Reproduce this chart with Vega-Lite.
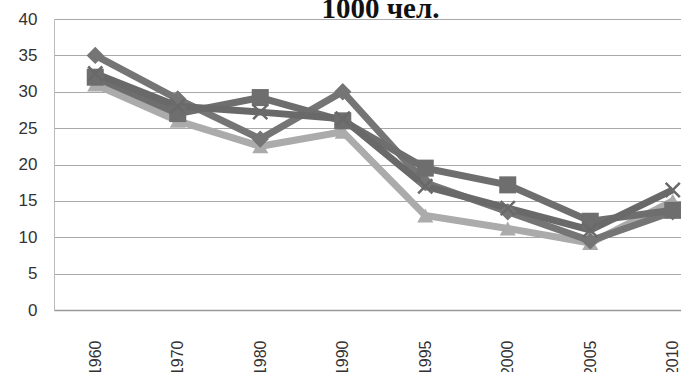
{
  "$schema": "https://vega.github.io/schema/vega-lite/v6.json",
  "width": 627,
  "height": 291,
  "autosize": {"type": "none"},
  "padding": {"left": 54, "top": 19, "right": 0, "bottom": 62},
  "background": "white",
  "title": {
    "text": "1000 чел.",
    "font": "Liberation Serif",
    "fontSize": 29,
    "fontWeight": "bold",
    "color": "#111111",
    "anchor": "middle",
    "frame": "group",
    "baseline": "bottom",
    "offset": 0,
    "dx": 13,
    "dy": 43
  },
  "config": {
    "view": {"stroke": null},
    "axis": {"labelFont": "Liberation Sans", "labelColor": "#333333", "ticks": false, "title": null}
  },
  "data": {
    "values": [
      {"year": "1960", "series": "A", "value": 35},
      {"year": "1970", "series": "A", "value": 29},
      {"year": "1980", "series": "A", "value": 23.5},
      {"year": "1990", "series": "A", "value": 30},
      {"year": "1995", "series": "A", "value": 17.5},
      {"year": "2000", "series": "A", "value": 13.5},
      {"year": "2005", "series": "A", "value": 9.5},
      {"year": "2010", "series": "A", "value": 13.5},
      {"year": "1960", "series": "B", "value": 32},
      {"year": "1970", "series": "B", "value": 27},
      {"year": "1980", "series": "B", "value": 29.2},
      {"year": "1990", "series": "B", "value": 26},
      {"year": "1995", "series": "B", "value": 19.5},
      {"year": "2000", "series": "B", "value": 17.2},
      {"year": "2005", "series": "B", "value": 12.2},
      {"year": "2010", "series": "B", "value": 13.7},
      {"year": "1960", "series": "C", "value": 31},
      {"year": "1970", "series": "C", "value": 26},
      {"year": "1980", "series": "C", "value": 22.5},
      {"year": "1990", "series": "C", "value": 24.5},
      {"year": "1995", "series": "C", "value": 13},
      {"year": "2000", "series": "C", "value": 11.2},
      {"year": "2005", "series": "C", "value": 9.2},
      {"year": "2010", "series": "C", "value": 15},
      {"year": "1960", "series": "D", "value": 32.5},
      {"year": "1970", "series": "D", "value": 28},
      {"year": "1980", "series": "D", "value": 27.2},
      {"year": "1990", "series": "D", "value": 26.3},
      {"year": "1995", "series": "D", "value": 17},
      {"year": "2000", "series": "D", "value": 14},
      {"year": "2005", "series": "D", "value": 11},
      {"year": "2010", "series": "D", "value": 16.5}
    ]
  },
  "encoding": {
    "x": {
      "field": "year",
      "type": "ordinal",
      "scale": {"type": "point", "range": [0, 660], "padding": 0.5},
      "axis": {"labelAngle": -90, "labelFontSize": 16, "labelPadding": 30, "domainColor": "#999999", "domainWidth": 1.5, "grid": false}
    },
    "y": {
      "field": "value",
      "type": "quantitative",
      "scale": {"domain": [0, 40], "nice": false},
      "axis": {"values": [0, 5, 10, 15, 20, 25, 30, 35, 40], "labelFontSize": 17, "labelPadding": 17, "domainColor": "#bbbbbb", "gridColor": "#a8a8a8", "gridWidth": 1.2}
    },
    "color": {
      "field": "series",
      "type": "nominal",
      "scale": {"domain": ["A", "B", "C", "D"], "range": ["#757575", "#6e6e6e", "#ababab", "#696969"]},
      "legend": null
    }
  },
  "layer": [
    {
      "transform": [{"filter": "datum.series == 'C'"}],
      "mark": {"type": "line", "strokeWidth": 7, "strokeJoin": "miter"}
    },
    {
      "transform": [{"filter": "datum.series == 'C'"}],
      "mark": {"type": "point", "shape": "triangle-up", "filled": true, "size": 260, "opacity": 1}
    },
    {
      "transform": [{"filter": "datum.series != 'C'"}],
      "mark": {"type": "line", "strokeWidth": 7, "strokeJoin": "miter"}
    },
    {
      "transform": [{"filter": "datum.series == 'A'"}],
      "mark": {"type": "point", "shape": "diamond", "filled": true, "size": 300, "opacity": 1}
    },
    {
      "transform": [{"filter": "datum.series == 'B'"}],
      "mark": {"type": "point", "shape": "square", "filled": true, "size": 290, "opacity": 1}
    },
    {
      "transform": [{"filter": "datum.series == 'D'"}],
      "mark": {"type": "point", "shape": "M-1,-1L1,1M-1,1L1,-1", "filled": false, "strokeWidth": 2.5, "size": 200, "opacity": 1}
    }
  ]
}
